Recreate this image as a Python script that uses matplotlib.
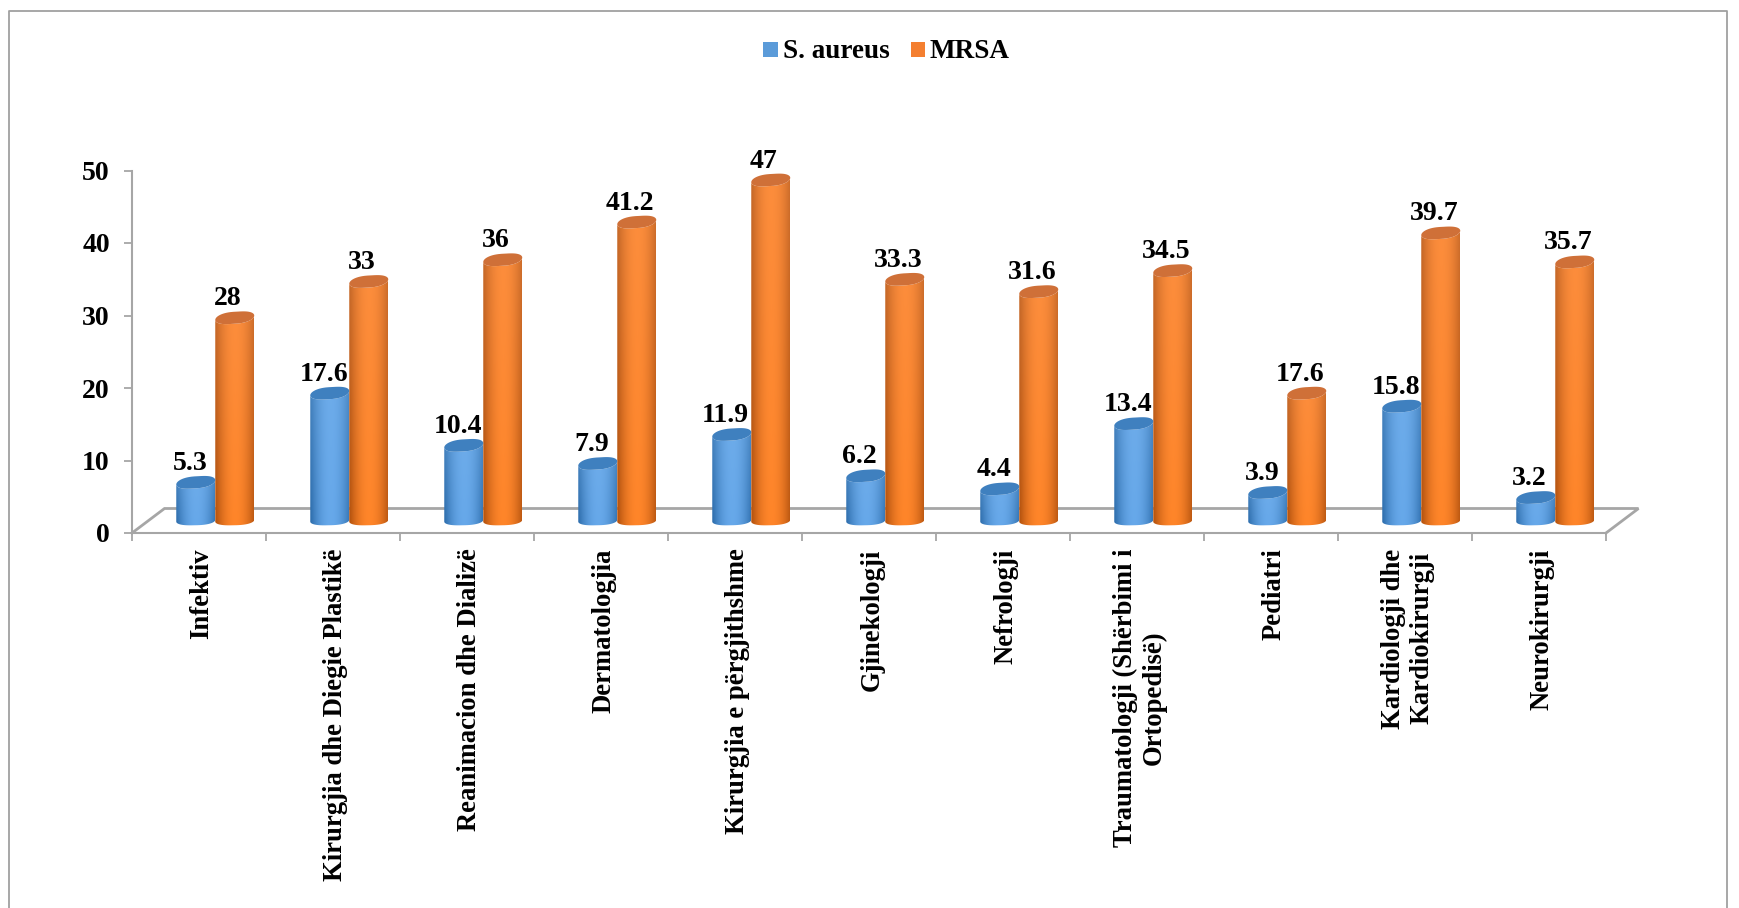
import numpy as np
import matplotlib
matplotlib.use("Agg")
import matplotlib.pyplot as plt
from matplotlib.patches import Polygon, Rectangle
from matplotlib.lines import Line2D
from matplotlib.transforms import ScaledTranslation

plt.rcParams["font.family"] = ["Liberation Serif", "DejaVu Serif"]
plt.rcParams["font.weight"] = "bold"

categories = ["Infektiv", "Kirurgjia dhe Diegie Plastikë", "Reanimacion dhe Dializë", "Dermatologjia",
              "Kirurgjia e përgjithshme", "Gjinekologji", "Nefrologji",
              "Traumatologji (Shërbimi i\nOrtopedisë)", "Pediatri", "Kardiologji dhe\nKardiokirurgji",
              "Neurokirurgji"]
s_aureus = [5.3, 17.6, 10.4, 7.9, 11.9, 6.2, 4.4, 13.4, 3.9, 15.8, 3.2]
mrsa = [28, 33, 36, 41.2, 47, 33.3, 31.6, 34.5, 17.6, 39.7, 35.7]
y_ticks = [0, 10, 20, 30, 40, 50]

W, H = 1739, 908
AX_L, AX_R, AX_TOP, AX_BOT = 132, 1606, 170.5, 533
GRAY = "#a6a6a6"

# size of one data unit in pixels
PX_X = (AX_R - AX_L) / len(categories)
PX_Y = (AX_BOT - AX_TOP) / 50
# floor depth, the bars stand in the middle of it
DEPTH_X = 32.5 / PX_X
DEPTH_Y = 24.5 / PX_Y
BAR_W = 39 / PX_X
CAP_H = 6.0 / PX_Y
CAP_TILT = 2.2 / PX_Y


def blunt_cos(t):
    # squarer ends than a plain ellipse
    c = np.cos(t)
    return np.sign(c) * np.abs(c) ** 0.75


def shade(edge, mid, top_tint, n=64):
    # left-right cylinder shading, paler towards the top of the bar
    t = np.linspace(-1, 1, n)
    k = np.clip(np.abs(t - 0.05) ** 2.0, 0, 1)[None, :, None]
    edge = np.array(matplotlib.colors.to_rgb(edge))[None, None, :]
    mid = np.array(matplotlib.colors.to_rgb(mid))[None, None, :]
    tint = np.array(matplotlib.colors.to_rgb(top_tint))[None, None, :]
    v = np.linspace(0.0, 1.0, n)[:, None, None]
    return (mid * (1 - k) + edge * k) * (1 - 0.3 * v) + tint * 0.3 * v


def draw_bar(ax, xc, value, edge, mid, tint, cap):
    base = DEPTH_Y / 2
    top = base + value
    t = np.linspace(0, np.pi, 40)
    xs = xc + BAR_W / 2 * blunt_cos(t)
    # body outline: front half of the base, then the top edge
    y_low = base - CAP_H * 0.75 * np.sin(t) + 0.12 * np.cos(t)
    y_up = top + CAP_TILT * np.cos(t) - CAP_H * np.sin(t)
    body = np.r_[np.c_[xs, y_low], np.c_[xs[::-1], y_up[::-1]]]
    patch = Polygon(body, closed=True, fc="none", ec="none", zorder=3)
    ax.add_patch(patch)
    im = ax.imshow(shade(edge, mid, tint), extent=[xc - BAR_W / 2, xc + BAR_W / 2, base - CAP_H, top + CAP_H],
                   origin="lower", aspect="auto", zorder=3, interpolation="bilinear")
    im.set_clip_path(patch)
    tt = np.linspace(0, 2 * np.pi, 60)
    ring = np.c_[xc + BAR_W / 2 * blunt_cos(tt), top + CAP_TILT * np.cos(tt) + CAP_H * np.sin(tt)]
    ax.add_patch(Polygon(ring, closed=True, fc=cap, ec="none", zorder=4))


fig = plt.figure(figsize=(W / 100, H / 100), dpi=100)
fig.patch.set_facecolor("white")
ax = fig.add_axes([AX_L / W, 1 - AX_BOT / H, (AX_R - AX_L) / W, (AX_BOT - AX_TOP) / H])
ax.patch.set_alpha(0)

n = len(categories)
x = np.arange(n)

# floor of the chart
ax.plot([-0.5, -0.5 + DEPTH_X, n - 0.5 + DEPTH_X, n - 0.5], [0, DEPTH_Y, DEPTH_Y, 0], color=GRAY, lw=2,
        clip_on=False, zorder=1, solid_joinstyle="miter")

for i in x:
    xc = i + DEPTH_X / 2
    draw_bar(ax, xc - BAR_W / 2, s_aureus[i], "#2f6fae", "#66a8ea", "#7db4ea", "#3f80bf")
    draw_bar(ax, xc + BAR_W / 2, mrsa[i], "#b6540f", "#ff8529", "#f5a06a", "#cf7038")
    ax.text(xc - BAR_W / 2 - 6 / PX_X, DEPTH_Y / 2 + s_aureus[i] + 19 / PX_Y, f"{s_aureus[i]:g}", ha="center",
            va="center", fontsize=20, zorder=6)
    ax.text(xc + BAR_W / 2 - 7 / PX_X, DEPTH_Y / 2 + mrsa[i] + 19 / PX_Y, f"{mrsa[i]:g}", ha="center",
            va="center", fontsize=20, zorder=6)

ax.set_xlim(-0.5, n - 0.5)
ax.set_ylim(0, 50)
for side in ["top", "right"]:
    ax.spines[side].set_visible(False)
for side in ["left", "bottom"]:
    ax.spines[side].set_color(GRAY)
    ax.spines[side].set_linewidth(1.5)

ax.set_yticks(y_ticks)
ax.tick_params(axis="y", length=6, width=1.3, color=GRAY, pad=10, labelsize=20)
ax.set_xticks(np.arange(n + 1) - 0.5)
ax.set_xticklabels([])
ax.set_xticks(x, labels=categories, minor=True)
ax.tick_params(axis="x", which="major", length=6, width=1.3, color=GRAY)
ax.tick_params(axis="x", which="minor", length=0, pad=11, labelsize=19.2)
nudge = ScaledTranslation(3 / 100, 0, fig.dpi_scale_trans)
for lab in ax.get_xticklabels(minor=True):
    lab.set_rotation(90)
    lab.set_va("top")
    lab.set_ha("center")
    lab.set_multialignment("center")
    lab.set_transform(lab.get_transform() + nudge)

# legend drawn in figure pixels
def px_x(v):
    return v / W


def px_y(v):
    return 1 - v / H


for left, wid, col, name, tx in [(763, 15, "#5b9bd9", "S. aureus", 783), (911, 14, "#f47f30", "MRSA", 930)]:
    fig.add_artist(Rectangle((px_x(left), px_y(57)), wid / W, 15 / H, transform=fig.transFigure, fc=col, ec="none"))
    fig.text(px_x(tx), px_y(52), name, fontsize=19.5, va="center", ha="left")

# outer frame, open at the bottom
fig.add_artist(Line2D([px_x(9), px_x(9), px_x(1727), px_x(1727)], [0, px_y(11), px_y(11), 0], color="#a0a0a0",
                      lw=1.3))

fig.savefig("out.png", dpi=100)
